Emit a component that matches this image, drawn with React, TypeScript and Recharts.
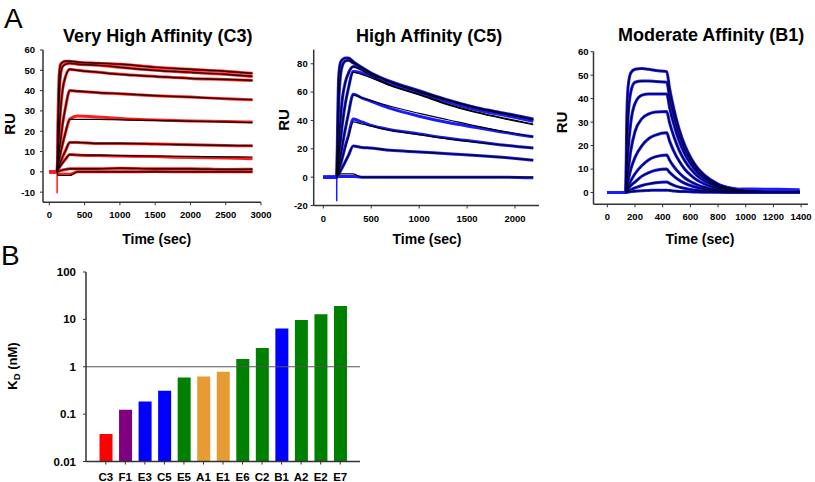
import React from 'react';
import { LineChart, Line, XAxis, YAxis, BarChart, Bar, Cell, ReferenceLine } from 'recharts';

const FONT = '"Liberation Sans", Arial, Helvetica, sans-serif';

// ---------- Panel A1: Very High Affinity (C3) ----------
const c3Times = [0, 110, 125, 140, 160, 190, 230, 290, 400, 700, 1000, 1500, 2000, 2500, 2880];
const c3Obs1 = [0, 0, 30, 48, 53, 54, 54.5, 54.5, 54, 53.5, 53, 51.5, 50.5, 49.5, 48.5];
const c3Obs2 = [0, 0, 20, 38, 48, 52, 53, 53.5, 53, 52.5, 51.5, 50, 49, 48, 47];
const c3Obs3 = [0, 0, 10, 20, 31, 41, 47, 50.5, 50, 49, 48, 47, 46, 45.5, 45];
const c3Obs4 = [0, 0, 5, 10, 16, 24, 32, 40, 39.7, 39, 38.5, 37.5, 36.8, 36, 35.5];
const c3Obs5 = [0, 0, 3, 6, 9.5, 14, 19.5, 26, 27.5, 27, 26.3, 25.5, 25, 24.8, 24.5];
const c3Obs6 = [0, 0, 1.5, 3, 5, 7.5, 10.5, 14.5, 14.5, 14, 14, 13.7, 13.3, 13, 12.8];
const c3Obs7 = [0, 0, 1, 2, 3, 4.5, 6.3, 8.6, 8.3, 8, 7.8, 7.5, 7, 6.8, 6.5];
const c3Obs8 = [0, 0, 0.2, 0.4, 0.6, 0.9, 1.2, 1.5, 1.5, 1.5, 1.8, 1.5, 1.5, 1.2, 1.3];
const c3Obs9 = [0, 0, -0.8, -1.2, -1.2, -1.2, -1.2, -1.2, 0, 0, 0, 0.2, 0, 0, 0];
const c3Fit5 = [0, 0, 3, 6, 9.5, 14, 19.5, 25.8, 25.8, 25.8, 25.6, 25.3, 25, 24.6, 24.2];
const c3Fit7 = [0, 0, 1, 2, 3, 4.5, 6.3, 8.5, 8.3, 8.2, 8, 7.8, 7.6, 7.4, 7.3];
const c3Fit9 = [0, 0, -1.8, -1.8, -1.8, -1.8, -1.8, -1.8, 0, 0, 0, 0, 0, 0, 0];
const c3SpikeTimes = [110, 110];
const c3SpikeValues = [0, -10.5];
const c3ObsCurves = [c3Obs1, c3Obs2, c3Obs3, c3Obs4, c3Obs5, c3Obs6, c3Obs7, c3Obs8, c3Obs9];
const c3FitCurves = [c3Obs1, c3Obs2, c3Obs3, c3Obs4, c3Fit5, c3Obs6, c3Fit7, c3Obs8, c3Fit9];
const c3XTicks = [0, 500, 1000, 1500, 2000, 2500, 3000];
const c3YTicks = [-10, 0, 10, 20, 30, 40, 50, 60];

// ---------- Panel A2: High Affinity (C5) ----------
const c5Times = [0, 140, 150, 160, 180, 200, 230, 260, 313, 400, 500, 700, 1000, 1300, 1600, 1900, 2190];
const c5Obs1 = [0, 0, 40, 70, 81, 83, 84, 84, 81.5, 77.5, 73.5, 67.5, 61, 54.5, 49, 45, 41];
const c5Obs2 = [0, 0, 25, 50, 72, 79, 82, 82.5, 80.5, 77, 73, 67, 60, 54, 48.5, 44.5, 40.5];
const c5Obs3 = [0, 0, 10, 22, 42, 56, 67, 73, 78, 76, 72, 66, 59.5, 53.5, 48, 44, 40];
const c5Obs4 = [0, 0, 6, 13, 26, 38, 52, 62, 74.5, 73.5, 71, 65.5, 59, 53, 47.5, 43.5, 39.5];
const c5Obs5 = [0, 0, 3, 7, 15, 23, 34, 44, 58.5, 56, 53.5, 48.5, 43, 38.5, 35, 31.5, 28.5];
const c5Obs6 = [0, 0, 2, 4, 9, 14, 22, 29, 41, 39, 36.5, 33.5, 30.5, 27.5, 25, 22.5, 20.5];
const c5Obs7 = [0, 0, 1, 2, 4.5, 7, 11, 15, 22, 21, 20.5, 19, 17.8, 16.5, 15.3, 13.8, 12];
const c5Obs8 = [0, 0, 0.3, 0.5, 0.5, 0.5, 0.5, 0.5, 0.5, 0, 0, 0, 0, 0, 0, 0, -0.5];
const c5Fit3 = [0, 0, 10, 22, 42, 56, 67, 73, 78, 75.5, 71.5, 65, 58.5, 51.5, 46, 41.5, 37.5];
const c5Fit4 = [0, 0, 6, 13, 26, 38, 52, 62, 74, 72.5, 70, 64.5, 58, 51, 45.5, 41, 37];
const c5Fit5 = [0, 0, 3, 7, 15, 23, 34, 44, 58, 56, 54, 50, 45, 40.5, 36, 32, 28.5];
const c5Fit6 = [0, 0, 2, 4, 9, 14, 21, 28, 39, 37.5, 36, 33, 30, 27, 24.5, 22.5, 20.5];
const c5Fit8 = [0, 0, 1.5, 2.3, 2.3, 2.3, 2.3, 2.3, 2.3, 0, 0, 0, 0, 0, 0, 0, 0];
const c5SpikeTimes = [140, 140];
const c5SpikeValues = [0, -17];
const c5ObsCurves = [c5Obs1, c5Obs2, c5Obs3, c5Obs4, c5Obs5, c5Obs6, c5Obs7, c5Obs8];
const c5FitCurves = [c5Obs1, c5Obs2, c5Fit3, c5Fit4, c5Fit5, c5Fit6, c5Obs7, c5Fit8];
const c5XTicks = [0, 500, 1000, 1500, 2000];
const c5YTicks = [-20, 0, 20, 40, 60, 80];

// ---------- Panel A3: Moderate Affinity (B1) ----------
const b1Times = [0, 133, 140, 150, 170, 200, 250, 300, 350, 429, 450, 480, 520, 560, 600, 650, 700, 800, 900, 1000, 1200, 1390];
const b1Obs1 = [0, 0, 30, 45, 51, 52.5, 52.8, 52.5, 52, 51.5, 44.3, 35.8, 26.8, 20.1, 15.2, 10.6, 7.5, 3.6, 1.8, 0.9, 0.3, 0.2];
const b1Obs2 = [0, 0, 18, 32, 43, 47, 47.5, 47.5, 47.3, 47, 40.4, 32.7, 24.4, 18.3, 13.9, 9.6, 6.8, 3.3, 1.6, 0.8, 0.3, 0.2];
const b1Obs3 = [0, 0, 8, 18, 30, 38, 41.5, 42, 42, 42, 36.1, 29.2, 21.8, 16.4, 12.4, 8.6, 6.1, 2.9, 1.5, 0.7, 0.3, 0.2];
const b1Obs4 = [0, 0, 4, 9, 18, 26, 31.5, 33.5, 34.3, 34.5, 29.7, 24, 17.9, 13.5, 10.2, 7.1, 5, 2.4, 1.2, 0.6, 0.3, 0.2];
const b1Obs5 = [0, 0, 2, 5, 10, 15, 20, 23, 24.5, 25.5, 21.9, 17.7, 13.3, 9.9, 7.5, 5.2, 3.7, 1.8, 0.9, 0.4, 0.2, 0.2];
const b1Obs6 = [0, 0, 1, 2.5, 5, 8, 11.5, 14, 15.3, 16, 13.8, 11.1, 8.3, 6.2, 4.7, 3.3, 2.3, 1.1, 0.6, 0.3, 0.2, 0.2];
const b1Obs7 = [0, 0, 0.5, 1.5, 3, 4.5, 7, 8.5, 9.5, 10, 8.6, 7, 5.2, 3.9, 3, 2.1, 1.5, 0.7, 0.4, 0.2, 0.2, 0.2];
const b1Obs8 = [0, 0, 0.2, 0.6, 1.2, 2, 3, 3.7, 4.2, 4.5, 3.9, 3.1, 2.3, 1.8, 1.3, 0.9, 0.7, 0.3, 0.2, 0.1, 0.1, 0.1];
const b1Obs9 = [0, 0, 0.1, 0.2, 0.4, 0.6, 0.8, 0.9, 1, 1, 0.9, 0.7, 0.5, 0.4, 0.3, 0.2, 0.15, 0.1, 0, 0, 0, 0];
const b1TailTimes = [650, 800, 1000, 1200, 1390];
const b1TailValues = [1.5, 1.2, 1.3, 1.2, 1.0];
const b1Curves = [b1Obs1, b1Obs2, b1Obs3, b1Obs4, b1Obs5, b1Obs6, b1Obs7, b1Obs8, b1Obs9];
const b1XTicks = [0, 200, 400, 600, 800, 1000, 1200, 1400];
const b1YTicks = [0, 10, 20, 30, 40, 50, 60];

// ---------- Panel B: KD bars ----------
const kdCategories = ['C3', 'F1', 'E3', 'C5', 'E5', 'A1', 'E1', 'E6', 'C2', 'B1', 'A2', 'E2', 'E7'];
const kdValues = [0.038, 0.123, 0.185, 0.31, 0.59, 0.62, 0.78, 1.46, 2.5, 6.4, 9.7, 12.9, 19.2];
const kdColors = ['#ff0000', '#800080', '#0000ff', '#0000ff', '#008000', '#e69b33', '#e69b33', '#008000', '#008000', '#0000ff', '#008000', '#008000', '#008000'];
const kdTicks = [0.01, 0.1, 1, 10, 100];

// fits start at the injection point (index 1); measured traces start at t = 0
const toPts = (ts: number[], vs: number[], from = 0) =>
  ts.map((t, i) => ({ t, v: vs[i] })).slice(from);
const kdData = kdCategories.map((c, i) => ({ name: c, kd: kdValues[i] }));

const axisLine = { stroke: '#333', strokeWidth: 1.5 };
const tickLine = { stroke: '#333', strokeWidth: 1 };
const smallTick = { fill: '#000', fontSize: 9.5, fontWeight: 700, fontFamily: FONT };
const bigTick = { fill: '#000', fontSize: 11.5, fontWeight: 700, fontFamily: FONT };

function Sensorgram(props: {
  width: number; height: number; margin: any; yWidth: number;
  xDomain: number[]; yDomain: number[]; xTicks: number[]; yTicks: number[];
  obs: number[][]; fits: number[][]; times: number[]; color: string; fitColor: string;
  spike?: { t: number[]; v: number[] }; tail?: { t: number[]; v: number[] };
  xMargin: number; yMargin: number;
}) {
  const p = props;
  return (
    <LineChart width={p.width} height={p.height} margin={p.margin}>
      <XAxis dataKey="t" type="number" domain={p.xDomain} ticks={p.xTicks} interval={0}
        allowDataOverflow axisLine={axisLine} tickLine={tickLine} tickSize={3} tickMargin={p.xMargin}
        tick={smallTick} height={20} />
      <YAxis type="number" domain={p.yDomain} ticks={p.yTicks} interval={0} allowDataOverflow
        axisLine={axisLine} tickLine={tickLine} tickSize={3} tickMargin={p.yMargin}
        tick={smallTick} width={p.yWidth} />
      {p.tail && (
        <Line data={toPts(p.tail.t, p.tail.v)} dataKey="v" type="monotone" stroke={p.color}
          strokeWidth={4} dot={false} activeDot={false} isAnimationActive={false} />
      )}
      {p.obs.map((vs, i) => (
        <Line key={'o' + i} data={toPts(p.times, vs)} dataKey="v" type="monotone" stroke={p.color}
          strokeWidth={3} dot={false} activeDot={false} isAnimationActive={false} />
      ))}
      {p.spike && (
        <Line data={toPts(p.spike.t, p.spike.v)} dataKey="v" type="linear" stroke={p.color}
          strokeWidth={1.5} dot={false} activeDot={false} isAnimationActive={false} />
      )}
      {p.fits.map((vs, i) => (
        <Line key={'f' + i} data={toPts(p.times, vs, 1)} dataKey="v" type="monotone" stroke={p.fitColor}
          strokeWidth={1.2} dot={false} activeDot={false} isAnimationActive={false} />
      ))}
    </LineChart>
  );
}

export default function App() {
  const boldText = { fontFamily: FONT, fontWeight: 700, fill: '#000' } as any;
  return (
    <div style={{ position: 'absolute', left: 0, top: 0, width: 815, height: 482, background: '#fff', overflow: 'hidden' }}>
      <div style={{ position: 'absolute', left: 0, top: 0 }}>
        <Sensorgram width={285} height={230} margin={{ top: 50, right: 24, bottom: 7.7, left: 0 }} yWidth={43}
          xDomain={[-90, 3000]} yDomain={[-15, 60]} xTicks={c3XTicks} yTicks={c3YTicks}
          obs={c3ObsCurves} fits={c3FitCurves} times={c3Times} color="#ff1a1a" fitColor="#000"
          spike={{ t: c3SpikeTimes, v: c3SpikeValues }} xMargin={6} yMargin={5} />
      </div>
      <div style={{ position: 'absolute', left: 270, top: 0 }}>
        <Sensorgram width={275} height={230} margin={{ top: 49.6, right: 6, bottom: 4.5, left: 0 }} yWidth={43.7}
          xDomain={[-100, 2250]} yDomain={[-20, 90]} xTicks={c5XTicks} yTicks={c5YTicks}
          obs={c5ObsCurves} fits={c5FitCurves} times={c5Times} color="#1a1aff" fitColor="#000"
          spike={{ t: c5SpikeTimes, v: c5SpikeValues }} xMargin={6.5} yMargin={3} />
      </div>
      <div style={{ position: 'absolute', left: 545, top: 0 }}>
        <Sensorgram width={270} height={230} margin={{ top: 51.7, right: 7, bottom: 5.7, left: 0 }} yWidth={48.5}
          xDomain={[-100, 1450]} yDomain={[-5, 60]} xTicks={b1XTicks} yTicks={b1YTicks}
          obs={b1Curves} fits={b1Curves} times={b1Times} color="#1a1aff" fitColor="#000030"
          tail={{ t: b1TailTimes, v: b1TailValues }} xMargin={6} yMargin={2} />
      </div>
      <div style={{ position: 'absolute', left: 0, top: 250 }}>
        <BarChart width={370} height={232} data={kdData} margin={{ top: 22, right: 10, bottom: 0.5, left: 0 }}
          barCategoryGap="18%">
          <XAxis dataKey="name" interval={0} padding={{ left: 10, right: 10 }} axisLine={axisLine}
            tickLine={tickLine} tickSize={3} tickMargin={8} tick={bigTick} height={20} />
          <YAxis scale="log" type="number" domain={[0.01, 100]} ticks={kdTicks} interval={0} allowDataOverflow
            axisLine={axisLine} tickLine={tickLine} tickSize={3} tickMargin={7} tick={bigTick} width={86} />
          <ReferenceLine y={1} stroke="#555" strokeWidth={1} />
          <Bar dataKey="kd" isAnimationActive={false}>
            {kdData.map((d, i) => (
              <Cell key={d.name} fill={kdColors[i]} />
            ))}
          </Bar>
        </BarChart>
      </div>
      <svg width={815} height={482} style={{ position: 'absolute', left: 0, top: 0, pointerEvents: 'none' }}>
        <text x={4} y={28.3} fontSize={28} fontFamily={FONT} fill="#000">A</text>
        <text x={1} y={265} fontSize={28} fontFamily={FONT} fill="#000">B</text>
        <text x={157.8} y={41.7} fontSize={18} textAnchor="middle" style={boldText}>Very High Affinity (C3)</text>
        <text x={429.2} y={41.7} fontSize={18} textAnchor="middle" style={boldText}>High Affinity (C5)</text>
        <text x={711.2} y={40.7} fontSize={18} textAnchor="middle" style={boldText}>Moderate Affinity (B1)</text>
        <text x={15} y={124} fontSize={15} textAnchor="middle" transform="rotate(-90 15 124)" style={boldText}>RU</text>
        <text x={289} y={120} fontSize={15} textAnchor="middle" transform="rotate(-90 289 120)" style={boldText}>RU</text>
        <text x={566.7} y={122.5} fontSize={15} textAnchor="middle" transform="rotate(-90 566.7 122.5)" style={boldText}>RU</text>
        <text x={156.7} y={244.3} fontSize={14} textAnchor="middle" style={boldText}>Time (sec)</text>
        <text x={427} y={244.3} fontSize={14} textAnchor="middle" style={boldText}>Time (sec)</text>
        <text x={700} y={244.3} fontSize={14} textAnchor="middle" style={boldText}>Time (sec)</text>
        <text x={16.5} y={366} fontSize={13} textAnchor="middle" transform="rotate(-90 16.5 366)" style={boldText}>
          K<tspan fontSize={9.5} dy={3}>D</tspan><tspan dy={-3}> (nM)</tspan>
        </text>
      </svg>
    </div>
  );
}
